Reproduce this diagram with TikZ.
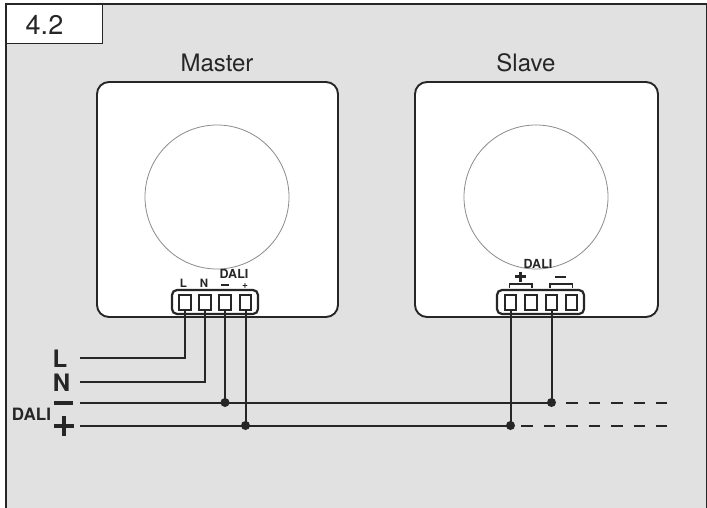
\documentclass[tikz,border=0pt]{standalone}
\usepackage{fontspec}
\setmainfont{TeX Gyre Heros}
\definecolor{bg}{HTML}{E1E1E1}
\definecolor{ink}{HTML}{262626}
\tikzset{
  frameline/.style={draw=ink,line width=1.4pt},
  panel/.style={draw=ink,fill=white,line width=1.9pt,rounded corners=12pt},
  dial/.style={circle,draw=black!45,line width=0.8pt,fill=white,minimum size=144pt,inner sep=0pt},
  strip/.style={draw=ink,fill=white,line width=2.2pt,rounded corners=5pt},
  term/.style={rectangle,draw=ink,fill=white,line width=1.6pt,minimum width=11.5pt,minimum height=15pt,inner sep=0pt},
  wire/.style={draw=ink,line width=2pt},
  dashwire/.style={draw=ink,line width=2pt,dash pattern=on 11.5pt off 11pt},
  jdot/.style={circle,fill=ink,minimum size=9pt,inner sep=0pt},
  bigt/.style={text=ink,font=\fontsize{24}{24}\selectfont,inner sep=0pt},
  tiny/.style={text=ink,font=\bfseries\fontsize{11.5}{11.5}\selectfont,inner sep=0pt},
  busl/.style={text=ink,font=\bfseries\fontsize{24}{24}\selectfont,inner sep=0pt},
}
\begin{document}
\begin{tikzpicture}[x=1pt,y=-1pt]
\useasboundingbox (0,0) rectangle (707,508);
\fill[white] (0,0) rectangle (707,508);
\fill[bg] (6,4) rectangle (707,508);
\draw[frameline] (6,508) -- (6,4) -- (706.4,4) -- (706.4,508);
\node[frameline,fill=white,minimum width=96pt,minimum height=39pt,inner sep=0pt,anchor=north west] (tag) at (6,4) {};
\node[text=ink,font=\fontsize{27}{27}\selectfont,inner sep=0pt] (taglabel) at (44.5,25) {4.2};

\node[bigt] (mastert) at (217,63) {Master};
\node[bigt] (slavet) at (526,63) {Slave};

\draw[panel] (97,82) rectangle (338,317);
\draw[panel] (415,82) rectangle (658,317);
\node[dial] (c1) at (217,197) {};
\node[dial] (c2) at (536,197) {};

% master connector
\draw[strip] (172,290) rectangle (258,314);
\node[term] (m1) at (185,302.5) {};
\node[term] (m2) at (205,302.5) {};
\node[term] (m3) at (225,302.5) {};
\node[term] (m4) at (245.5,302.5) {};
\node[tiny] (ml) at (183.5,283) {L};
\node[tiny] (mn) at (204,283) {N};
\node[text=ink,font=\bfseries\fontsize{12.5}{12.5}\selectfont,inner sep=0pt] (md) at (234,273.5) {DALI};
\draw[ink,line width=1.6pt] (221,285) -- (229,285);
\node[text=ink,font=\bfseries\fontsize{10}{10}\selectfont,inner sep=0pt] (mp) at (245,286) {+};

% slave connector
\draw[strip] (497,290) rectangle (584,314);
\node[term] (s1) at (510.5,302.5) {};
\node[term] (s2) at (531,302.5) {};
\node[term] (s3) at (551.5,302.5) {};
\node[term] (s4) at (571.5,302.5) {};
\node[text=ink,font=\bfseries\fontsize{12.5}{12.5}\selectfont,inner sep=0pt] (sd) at (538,264) {DALI};
\draw[ink,line width=1.2pt] (509.5,288) -- (509.5,284) -- (532,284) -- (532,288);
\draw[ink,line width=1.2pt] (550,288) -- (550,284) -- (572.5,284) -- (572.5,288);
\draw[ink,line width=2.2pt] (515,276.5) -- (526,276.5) (520.5,271.5) -- (520.5,281.5);
\draw[ink,line width=2.2pt] (555,277) -- (565.5,277);

% bus labels
\node[busl] (lL) at (60,358.5) {L};
\node[busl] (lN) at (61.5,382.5) {N};
\node[text=ink,font=\bfseries\fontsize{17}{17}\selectfont,inner sep=0pt] (lD) at (31.5,414.5) {DALI};
\draw[ink,line width=3.2pt] (54,403) -- (73,403);
\draw[ink,line width=3.2pt] (54,426) -- (74,426) (64,416) -- (64,436);

% wires
\coordinate (aL) at (80,357.5);
\coordinate (aN) at (80,381.5);
\coordinate (aM) at (80,402.5);
\coordinate (aP) at (80,425.5);
\coordinate (eM) at (667,402.5);
\coordinate (eP) at (667,425.5);
\node[jdot] (j1) at (225,402.5) {};
\node[jdot] (j2) at (245.5,425.5) {};
\node[jdot] (j3) at (510.5,425.5) {};
\node[jdot] (j4) at (551.5,402.5) {};
\draw[wire] (aL) -| (m1.south);
\draw[wire] (aN) -| (m2.south);
\draw[wire] (aM) -- (j4.center);
\draw[wire] (aP) -- (j3.center);
\draw[wire] (m3.south) -- (j1.center);
\draw[wire] (m4.south) -- (j2.center);
\draw[wire] (s1.south) -- (j3.center);
\draw[wire] (s3.south) -- (j4.center);
\draw[dashwire] (566,402.5) -- (eM);
\draw[dashwire] (521,425.5) -- (eP);
\end{tikzpicture}
\end{document}
